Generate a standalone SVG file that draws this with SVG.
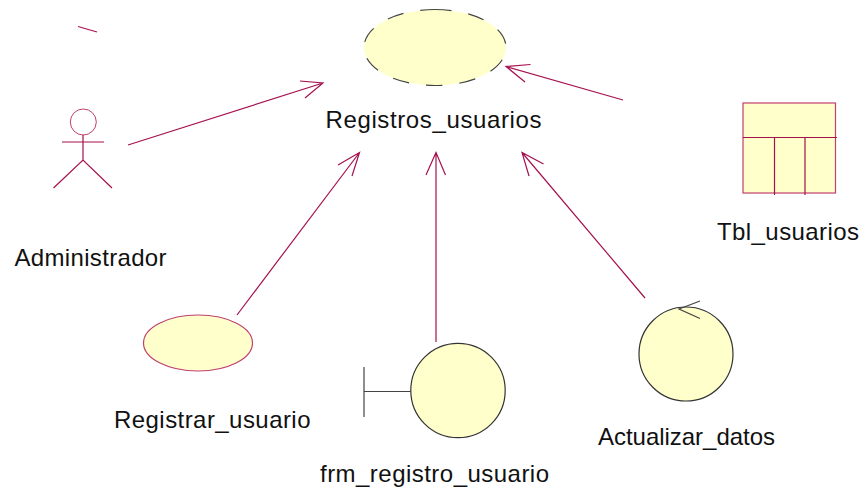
<svg xmlns="http://www.w3.org/2000/svg" width="862" height="488" viewBox="0 0 862 488">
<style>
.m{fill:none;stroke:#a5114f;stroke-width:1.2}
.f{fill:#ffffcb}
.k{fill:none;stroke:#444;stroke-width:1.2}
.mf{fill:#ffffcb;stroke:#c0406f;stroke-width:1.2}
.kf{fill:#ffffcb;stroke:#333;stroke-width:1.2}
text{font-family:"Liberation Sans",Arial,sans-serif;font-size:24px;fill:#111}
</style>
<rect width="862" height="488" fill="#fff"/>
<g id="connectors">
<path class="m" d="M128 145L323 83M300 81L323 83L305 98"/>
<path class="m" d="M237 315L359.500 152.500M338 165L359.500 152.500L352 176"/>
<path class="m" d="M436 342V152.500M426 175L436 152.500L445.500 175"/>
<path class="m" d="M645 298L522 152.500M543.500 164L522 152.500L529 176"/>
<path class="m" d="M623 100L506 66.500M530.500 64.500L506 66.500L525 82"/>
</g>
<g id="registros_usuarios">
<ellipse class="f" cx="435" cy="47.500" rx="71" ry="38"/>
<path class="k" d="M435 9.500A71 38 0 1 1 435 85.500A71 38 0 1 1 435 9.500" stroke-dasharray="16.500 17"/>
<text x="325.500" y="128" textLength="216" lengthAdjust="spacing">Registros_usuarios</text>
</g>
<g id="administrador">
<path class="m" d="M78 26.500L97 32"/>
<circle cx="83.300" cy="122" r="13" fill="none" stroke="#c0406f" stroke-width="1"/>
<path class="m" d="M62 142H104M83 135V160M53.500 188L83 160L112 188"/>
<text x="14.500" y="266" textLength="152" lengthAdjust="spacing">Administrador</text>
</g>
<g id="tbl_usuarios">
<rect class="mf" x="743" y="103" width="92.500" height="90"/>
<path class="m" d="M743 137.500H837M774.500 137.500V195M805 137.500V195"/>
<text x="717" y="240" textLength="142" lengthAdjust="spacing">Tbl_usuarios</text>
</g>
<g id="registrar_usuario">
<ellipse class="mf" cx="198" cy="343" rx="54.500" ry="28"/>
<text x="114" y="428" textLength="196.500" lengthAdjust="spacing">Registrar_usuario</text>
</g>
<g id="frm_registro_usuario">
<circle class="kf" cx="458" cy="390.500" r="47.200"/>
<path class="k" d="M364 367V417M364 391.500H411" stroke="#666"/>
<text x="320" y="482" textLength="229" lengthAdjust="spacing">frm_registro_usuario</text>
</g>
<g id="actualizar_datos">
<circle class="kf" cx="686" cy="354" r="47"/>
<path class="k" d="M700 301L679 309L700 318.500" stroke="#333"/>
<text x="598" y="444.500" textLength="177" lengthAdjust="spacing">Actualizar_datos</text>
</g>
</svg>
